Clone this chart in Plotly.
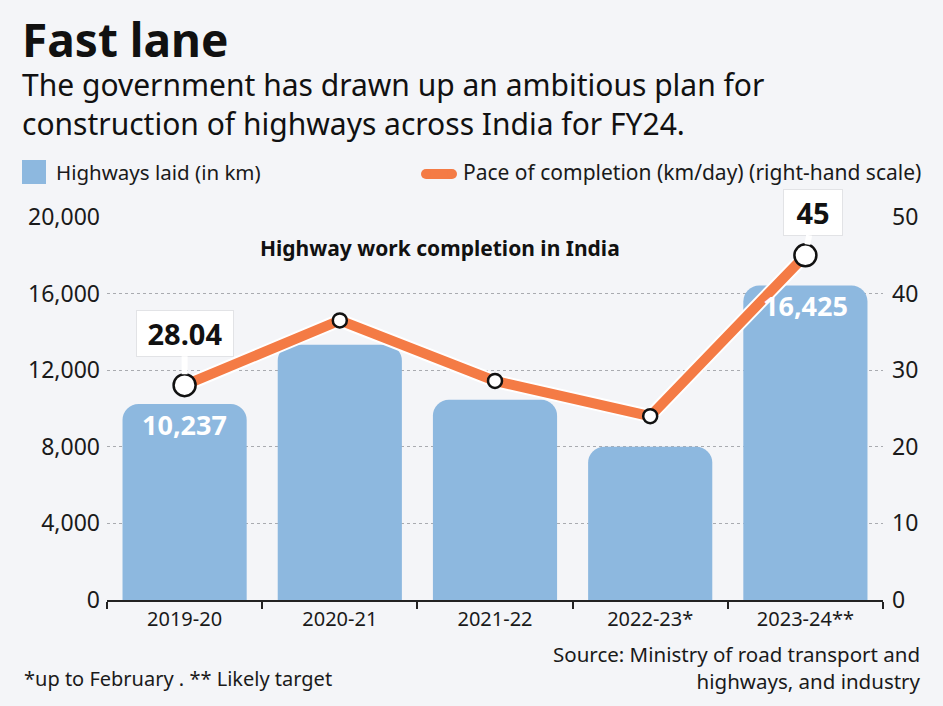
import plotly.graph_objects as go

# ---- data ----
years = ["2019-20", "2020-21", "2021-22", "2022-23*", "2023-24**"]
highways_km = [10237, 13327, 10457, 8000, 16425]
pace_km_day = [28.04, 36.5, 28.6, 24.0, 45]
left_ticks = [0, 4000, 8000, 12000, 16000, 20000]
right_ticks = [0, 10, 20, 30, 40, 50]

W, H = 943, 706
L, R, T, B = 107, 60, 217, 106
PW, PH = W - L - R, H - T - B
BG = "#F4F5F8"
FONT = "Noto Sans"
BAR = "#8DB8DF"
ORANGE = "#F47B45"


def px(x):
    return (x - L) / PW


def py(y):
    return (H - B - y) / PH


fig = go.Figure()

fig.add_trace(go.Bar(
    x=years, y=highways_km, marker=dict(color=BAR, cornerradius=16, line=dict(width=0)),
    width=0.8, name="Highways laid (in km)", showlegend=False, hoverinfo="skip"))

# white outline under the orange line
fig.add_trace(go.Scatter(
    x=years, y=pace_km_day, yaxis="y2", mode="lines",
    line=dict(color="white", width=14), showlegend=False, hoverinfo="skip"))
fig.add_trace(go.Scatter(
    x=years, y=pace_km_day, yaxis="y2", mode="lines",
    line=dict(color=ORANGE, width=10), showlegend=False, hoverinfo="skip"))
marker_sizes = [22, 14, 14, 14, 22]
fig.add_trace(go.Scatter(
    x=years, y=pace_km_day, yaxis="y2", mode="markers",
    marker=dict(color="white", size=marker_sizes, opacity=1, line=dict(color="#111", width=2.5)),
    showlegend=False, hoverinfo="skip"))

grid = dict(showgrid=True, gridcolor="#A9ABB0", griddash="dot", gridwidth=1.2)

fig.update_layout(
    width=W, height=H, autosize=False,
    margin=dict(l=L, r=R, t=T, b=B),
    paper_bgcolor=BG, plot_bgcolor=BG,
    font=dict(family=FONT, color="#1a1a1a"),
    bargap=0.2,
    showlegend=False,
    xaxis=dict(
        showline=True, linecolor="#222", linewidth=2,
        ticks="outside", tickson="boundaries", ticklen=7, tickcolor="#222", tickwidth=1.5,
        tickfont=dict(size=20, color="#1a1a1a"), showgrid=False,
    ),
    yaxis=dict(
        range=[0, 20000], tickvals=left_ticks, tickformat=",",
        tickfont=dict(size=23, color="#1a1a1a"), zeroline=False, ticks="",
        ticklabelstandoff=6, **grid,
    ),
    yaxis2=dict(
        range=[0, 50], tickvals=right_ticks, overlaying="y", side="right",
        tickfont=dict(size=23, color="#1a1a1a"), showgrid=False, zeroline=False,
        ticks="", ticklabelstandoff=8,
    ),
)

ann = []
# title & subtitle
ann.append(dict(x=px(20), y=py(72), xref="paper", yref="paper", xanchor="left", yanchor="bottom",
                text="<b>Fast lane</b>", showarrow=False, font=dict(size=46, color="#111", family=FONT)))
ann.append(dict(x=px(20), y=py(62), xref="paper", yref="paper", xanchor="left", yanchor="top",
                text="The government has drawn up an ambitious plan for<br>construction of highways across India for FY24.",
                showarrow=False, align="left", font=dict(size=30, color="#111", family=FONT)))
# legend
ann.append(dict(x=px(54), y=py(172), xref="paper", yref="paper", xanchor="left", yanchor="middle",
                text="Highways laid (in km)", showarrow=False, font=dict(size=20.5, color="#1a1a1a")))
ann.append(dict(x=px(923), y=py(172), xref="paper", yref="paper", xanchor="right", yanchor="middle",
                text="Pace of completion (km/day) (right-hand scale)", showarrow=False,
                font=dict(size=21, color="#1a1a1a")))
# chart inner title
ann.append(dict(x=px(440), y=py(248), xref="paper", yref="paper", xanchor="center", yanchor="middle",
                text="<b>Highway work completion in India</b>", showarrow=False,
                font=dict(size=21, color="#111")))
# bar labels
for i in (0, 4):
    ann.append(dict(x=years[i], y=highways_km[i], xref="x", yref="y", yanchor="top", yshift=0,
                    text="<b>" + f"{highways_km[i]:,}" + "</b>", showarrow=False,
                    font=dict(size=27, color="white")))
# callouts
ann.append(dict(x=years[0], y=pace_km_day[0], xref="x", yref="y2", ax=0, ay=-52,
                text="<b>28.04</b>", showarrow=True, arrowhead=0, arrowwidth=6, arrowcolor="white",
                standoff=11, bgcolor="white", borderpad=3, width=90, bordercolor="#E2E3E6", borderwidth=1,
                font=dict(size=29, color="#111")))
ann.append(dict(x=years[4], y=pace_km_day[4], xref="x", yref="y2", ax=8, ay=-43,
                text="<b>45</b>", showarrow=True, arrowhead=0, arrowwidth=6, arrowcolor="white",
                standoff=11, bgcolor="white", borderpad=3, width=52, bordercolor="#E2E3E6", borderwidth=1,
                font=dict(size=29, color="#111")))
# footnotes
ann.append(dict(x=px(22), y=py(678), xref="paper", yref="paper", xanchor="left", yanchor="middle",
                text="*up to February . ** Likely target", showarrow=False, font=dict(size=20, color="#1a1a1a")))
ann.append(dict(x=px(923), y=py(638), xref="paper", yref="paper", xanchor="right", yanchor="top",
                text="Source: Ministry of road transport and<br>highways, and industry", align="right",
                showarrow=False, font=dict(size=20.5, color="#1a1a1a")))
fig.update_layout(annotations=ann)

shapes = [
    dict(type="rect", xref="paper", yref="paper", x0=px(22), x1=px(46), y0=py(184), y1=py(160),
         fillcolor=BAR, line=dict(width=0)),
    # pill-shaped legend key for the line
    dict(type="rect", xref="paper", yref="paper", x0=px(426), x1=px(452), y0=py(179), y1=py(169),
         fillcolor=ORANGE, line=dict(width=0)),
    dict(type="circle", xref="paper", yref="paper", x0=px(421), x1=px(431), y0=py(179), y1=py(169),
         fillcolor=ORANGE, line=dict(width=0)),
    dict(type="circle", xref="paper", yref="paper", x0=px(447), x1=px(457), y0=py(179), y1=py(169),
         fillcolor=ORANGE, line=dict(width=0)),
]
fig.update_layout(shapes=shapes)

fig.write_html(
    "out.html",
    config={"displayModeBar": False},
    post_script="document.body.style.margin='0';document.body.style.background='" + BG + "';",
)
